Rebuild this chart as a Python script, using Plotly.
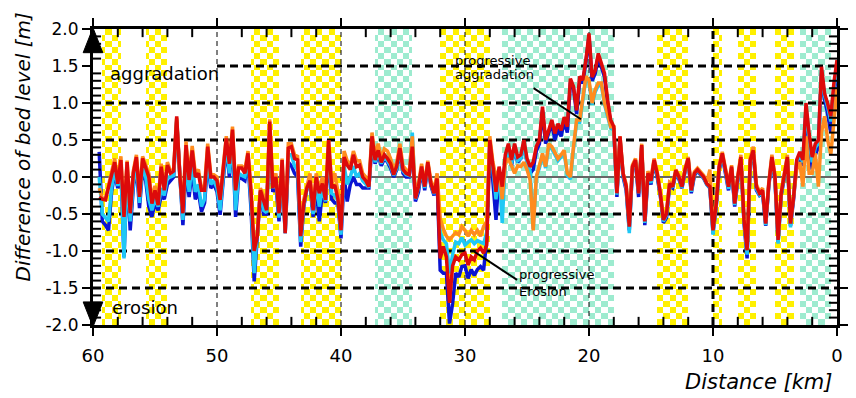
import numpy as np
import plotly.graph_objects as go

# ---------------- data ----------------
dist_km = np.round(np.arange(59.5, -0.01, -0.25), 2)  # survey stations (km)

red = [
    -0.27, -0.3, -0.31, -0.15, 0.05, 0.2, -0.09, 0.23, -0.54, 0.2,
    -0.49, 0.05, 0.27, -0.27, 0.25, 0.14, 0.0, -0.36, -0.18, -0.38,
    0.14, -0.18, 0.16, 0.05, 0.08, 0.82, 0.02, -0.49, 0.43, -0.04,
    0.36, 0.0, 0.05, -0.18, -0.18, 0.41, 0.0, 0.0, -0.05, -0.31,
    0.1, 0.52, 0.18, 0.64, -0.18, 0.12, 0.12, 0.05, 0.32, -0.22,
    -1.0, -0.8, -0.18, -0.31, -0.45, 0.75, -0.15, 0.0, -0.49, 0.23,
    -0.76, 0.39, 0.41, 0.25, 0.23, -0.8, -0.36, -0.15, -0.05, -0.45,
    0.0, -0.22, -0.09, -0.31, 0.5, -0.15, -0.11, -0.3, -0.72, 0.27,
    0.16, 0.1, 0.3, 0.14, 0.16, 0.0, -0.05, -0.13, 0.55, 0.23,
    0.36, 0.2, 0.3, 0.25, 0.18, 0.03, 0.15, 0.39, 0.1, 0.05,
    0.03, 0.41, -0.29, -0.13, 0.14, -0.13, 0.2, -0.09, -0.22, -0.02,
    -1.1, -0.94, -1.08, -1.7, -1.2, -1.08, -1.12, -1.05, -1.03, -1.19,
    -1.08, -1.12, -1.0, -0.96, -1.03, -0.92, 0.5, 0.15, -0.2, 0.14,
    -0.13, 0.3, 0.45, 0.23, 0.45, 0.27, 0.3, 0.5, 0.25, 0.14,
    0.2, 0.41, 0.5, 0.95, 0.5, 0.63, 0.77, 0.59, 0.72, 0.63,
    0.81, 0.68, 1.33, 1.22, 0.9, 1.36, 1.31, 1.58, 1.94, 1.35,
    1.44, 1.67, 1.55, 1.4, 1.04, 0.77, 0.68, -0.22, 0.55, 0.05,
    -0.13, -0.67, 0.14, 0.23, -0.22, 0.43, -0.6, 0.05, -0.05, 0.23,
    0.05, -0.22, -0.58, -0.5, -0.09, -0.13, 0.09, 0.0, -0.13, 0.1,
    0.25, -0.18, 0.05, 0.1, 0.05, 0.0, -0.09, -0.13, -0.72, -0.38,
    0.14, 0.32, 0.1, -0.13, 0.14, -0.36, 0.0, 0.27, -0.58, -0.99,
    0.23, 0.36, -0.13, -0.22, -0.18, -0.63, -0.09, 0.27, 0.0, -0.85,
    -0.22, 0.05, 0.27, -0.63, -0.27, 0.23, 0.34, 0.23, 1.0, 0.59,
    0.27, 0.45, 0.5, 1.49, 1.13, 0.99, 0.82, 1.27, 1.58,
]

blue = [
    0.34, -0.6, -0.65, -0.72, -0.2, 0.05, -0.15, 0.1, -1.08, 0.05,
    -0.72, -0.15, 0.15, -0.42, 0.1, -0.05, -0.4, -0.54, -0.35, -0.45,
    -0.25, -0.3, -0.1, -0.05, 0.0, 0.75, -0.05, -0.65, 0.1, -0.27,
    0.1, -0.3, -0.2, -0.47, -0.35, 0.2, -0.15, -0.1, -0.2, -0.51,
    -0.05, 0.4, 0.0, 0.5, -0.54, 0.0, -0.02, -0.05, 0.2, -0.45,
    -1.41, -0.8, -0.2, -0.5, -0.5, 0.6, -0.2, -0.1, -0.6, 0.1,
    -0.76, 0.2, 0.15, 0.05, 0.0, -0.94, -0.4, -0.15, -0.1, -0.54,
    -0.15, -0.6, -0.2, -0.35, 0.3, -0.3, -0.35, -0.35, -0.83, 0.0,
    -0.33, -0.1, 0.0, -0.1, -0.1, -0.15, -0.15, -0.15, 0.45, 0.18,
    0.3, 0.15, 0.25, 0.2, 0.12, 0.0, 0.1, 0.35, 0.05, 0.0,
    0.0, 0.38, -0.33, -0.2, 0.1, -0.18, 0.15, -0.12, -0.25, -0.05,
    -1.26, -1.3, -1.3, -1.98, -1.71, -1.3, -1.35, -1.21, -1.2, -1.37,
    -1.25, -1.33, -1.25, -1.21, -1.26, -0.85, 0.45, -0.1, -0.58, 0.05,
    -0.35, 0.25, 0.4, 0.15, 0.4, 0.2, 0.25, 0.45, 0.2, 0.05,
    0.1, 0.35, 0.45, 0.9, 0.45, 0.6, 0.72, 0.5, 0.65, 0.55,
    0.75, 0.6, 1.28, 1.2, 0.85, 1.3, 1.28, 1.55, 1.9, 1.3,
    1.4, 1.62, 1.5, 1.35, 1.0, 0.72, 0.65, -0.27, 0.5, 0.0,
    -0.18, -0.72, 0.1, 0.2, -0.27, 0.4, -0.65, 0.0, -0.1, 0.2,
    0.0, -0.25, -0.62, -0.55, -0.12, -0.15, 0.05, -0.03, -0.15, 0.08,
    0.22, -0.22, 0.02, 0.08, 0.03, -0.02, -0.1, -0.15, -0.75, -0.42,
    0.1, 0.28, 0.05, -0.18, 0.1, -0.4, -0.05, 0.22, -0.62, -1.1,
    0.18, 0.32, -0.18, -0.25, -0.22, -0.66, -0.12, 0.22, -0.05, -0.88,
    -0.25, 0.0, 0.22, -0.66, -0.3, 0.18, 0.25, 0.15, 0.9, 0.45,
    0.1, 0.3, 0.4, 1.4, 1.05, 0.85, 0.6, 1.1, 1.45,
]

cyan = [
    0.0, -0.5, -0.55, -0.6, -0.15, 0.1, -0.12, 0.15, -1.1, 0.1,
    -0.6, -0.1, 0.2, -0.35, 0.15, 0.0, -0.3, -0.45, -0.3, -0.4,
    -0.15, -0.25, 0.0, 0.0, 0.02, 0.78, 0.0, -0.58, 0.2, -0.2,
    0.2, -0.2, -0.1, -0.4, -0.3, 0.3, -0.1, -0.05, -0.15, -0.45,
    0.0, 0.45, 0.05, 0.55, -0.45, 0.05, 0.02, 0.0, 0.25, -0.35,
    -1.3, -0.8, -0.2, -0.45, -0.48, 0.65, -0.15, -0.05, -0.55, 0.15,
    -0.76, 0.3, 0.3, 0.15, 0.1, -0.88, -0.38, -0.15, -0.08, -0.5,
    -0.08, -0.4, -0.15, -0.33, 0.4, -0.22, -0.25, -0.32, -0.78, 0.15,
    -0.1, 0.0, 0.15, 0.0, 0.05, -0.05, -0.1, -0.14, 0.5, 0.2,
    0.33, 0.18, 0.28, 0.22, 0.15, 0.02, 0.12, 0.37, 0.08, 0.03,
    0.02, 0.6, -0.3, -0.15, 0.12, -0.15, 0.18, -0.1, -0.23, -0.03,
    -0.75, -0.85, -0.9, -1.3, -1.05, -0.88, -0.9, -0.82, -0.92, -0.88,
    -0.85, -0.9, -0.86, -0.88, -0.9, -0.75, 0.5, 0.1, -0.3, 0.1,
    -0.62, 0.2, 0.4, 0.18, 0.38, 0.22, 0.25, 0.45, 0.2, 0.08,
    -0.7, 0.0, 0.12, 0.3, 0.12, 0.42, 0.38, 0.3, 0.22, 0.27,
    0.33, 0.02, -0.03, 0.38, 0.74, 0.74, 1.0, 1.33, 1.28, 0.98,
    1.15, 1.24, 1.24, 0.98, 0.82, 0.66, 0.64, -0.24, 0.52, 0.02,
    -0.15, -0.76, 0.12, 0.22, -0.22, 0.42, -0.62, 0.03, -0.08, 0.21,
    0.03, -0.23, -0.6, -0.52, -0.1, -0.14, 0.07, -0.01, -0.14, 0.09,
    0.24, -0.2, 0.04, 0.09, 0.04, -0.01, -0.1, -0.14, -0.78, -0.4,
    0.12, 0.3, 0.08, -0.16, 0.12, -0.38, -0.02, 0.25, -0.6, -1.05,
    0.2, 0.34, -0.16, -0.24, -0.2, -0.65, -0.1, 0.25, -0.03, -0.9,
    -0.24, 0.03, 0.25, -0.68, -0.29, 0.2, 0.3, 0.2, 0.95, 0.5,
    0.2, 0.4, 0.45, 1.45, 1.1, 0.95, 0.75, 1.2, 1.5,
]

orange = [
    -0.15, -0.28, -0.3, -0.1, 0.1, 0.25, -0.05, 0.28, -0.5, 0.22,
    -0.45, 0.08, 0.3, -0.22, 0.28, 0.18, 0.05, -0.3, -0.12, -0.32,
    0.18, -0.12, 0.2, 0.08, 0.1, 0.8, 0.05, -0.45, 0.48, 0.0,
    0.42, 0.05, 0.1, -0.15, -0.12, 0.45, 0.03, 0.03, 0.0, -0.28,
    0.15, 0.55, 0.22, 0.68, -0.15, 0.15, 0.15, 0.1, 0.35, -0.18,
    -0.95, -0.75, -0.15, -0.25, -0.4, 0.78, -0.1, 0.05, -0.45, 0.25,
    -0.7, 0.45, 0.45, 0.3, 0.28, -0.75, -0.3, -0.1, 0.05, -0.42,
    0.05, -0.18, 0.0, -0.25, 0.5, -0.1, 0.05, -0.2, -0.68, 0.35,
    0.22, 0.15, 0.35, 0.22, 0.22, 0.05, 0.0, -0.1, 0.6, 0.28,
    0.45, 0.25, 0.38, 0.35, 0.25, 0.1, 0.2, 0.45, 0.15, 0.1,
    0.05, 0.55, -0.25, -0.08, 0.18, -0.1, 0.22, -0.05, -0.18, 0.05,
    -0.56, -0.7, -0.8, -0.85, -0.8, -0.75, -0.78, -0.67, -0.72, -0.8,
    -0.72, -0.78, -0.72, -0.8, -0.67, -0.6, 0.55, 0.2, 0.0, 0.1,
    -0.3, 0.18, 0.25, 0.15, 0.05, 0.15, 0.14, 0.2, 0.1, -0.04,
    -0.72, 0.0, 0.14, 0.32, 0.14, 0.45, 0.41, 0.32, 0.25, 0.3,
    0.36, 0.05, 0.0, 0.41, 0.77, 0.77, 1.04, 1.36, 1.31, 1.0,
    1.18, 1.27, 1.27, 1.0, 0.85, 0.68, 0.68, -0.2, 0.55, 0.05,
    -0.1, -0.62, 0.16, 0.25, -0.18, 0.45, -0.55, 0.08, -0.02, 0.25,
    0.07, -0.2, -0.55, -0.45, -0.07, -0.1, 0.1, 0.02, -0.1, 0.12,
    0.27, -0.15, 0.07, 0.12, 0.07, 0.02, -0.07, 0.1, -0.68, -0.35,
    0.16, 0.34, 0.12, -0.1, 0.16, -0.33, 0.02, 0.3, -0.55, -0.95,
    0.25, 0.41, -0.1, -0.2, -0.15, -0.6, -0.07, 0.3, 0.02, -0.8,
    -0.2, 0.08, 0.3, -0.6, -0.25, 0.1, 0.2, -0.13, 0.55, 0.05,
    0.05, 0.32, -0.13, 0.6, 0.82, 0.5, 0.3, 0.8, 1.2,
]

# shaded reaches (km from, km to)
yellow_reaches = [(59.3, 57.7), (55.7, 54.0), (47.3, 45.1), (43.2, 40.0),
                  (32.0, 27.9), (14.4, 12.0), (9.9, 9.2), (7.9, 6.4), (5.0, 3.6)]
green_reaches = [(37.35, 34.2), (27.0, 18.0), (3.0, 0.6)]

x_tick_vals = [60, 50, 40, 30, 20, 10, 0]
x_tick_text = ["60", "50", "40", "30", "20", "10", "0"]
y_tick_vals = [2.0, 1.5, 1.0, 0.5, 0.0, -0.5, -1.0, -1.5, -2.0]
y_tick_text = ["2.0", "1.5", "1.0", "0.5", "0.0", "-0.5", "-1.0", "-1.5", "-2.0"]

FONT = "DejaVu Sans, Verdana, sans-serif"

# ---------------- checker background ----------------
cell_x = np.arange(0.125, 60.0, 0.25)
cell_y = np.arange(-1.96, 2.0, 0.08)
z = np.full((len(cell_y), len(cell_x)), np.nan)
for i, xc in enumerate(cell_x):
    for j, yc in enumerate(cell_y):
        if (i // 2 + j) % 2:
            continue
        for a, b in yellow_reaches:
            if b <= xc <= a:
                z[j, i] = 1
        for a, b in green_reaches:
            if b <= xc <= a:
                z[j, i] = 2

fig = go.Figure()
fig.add_trace(go.Heatmap(
    x=cell_x, y=cell_y, z=z, zmin=1, zmax=2, showscale=False,
    colorscale=[[0, "#FFF000"], [0.5, "#FFF000"], [0.5, "#9DEBCF"], [1, "#9DEBCF"]],
    hoverinfo="skip", zsmooth=False,
))

# ---------------- grid lines ----------------
def hlines(levels, x0=60, x1=0):
    xs, ys = [], []
    for lv in levels:
        xs += [x0, x1, None]
        ys += [lv, lv, None]
    return xs, ys

gx, gy = hlines([1.0, 0.5, -0.5, -1.0, -1.5])
gx2, gy2 = hlines([1.5], 50, 0)
fig.add_trace(go.Scatter(x=gx + gx2, y=gy + gy2, mode="lines",
                         line=dict(color="black", width=3, dash="8px,5px"),
                         hoverinfo="skip", showlegend=False))
vx, vy = [], []
for xv in [50, 40, 30, 20]:
    vx += [xv, xv, None]
    vy += [-2, 2, None]
fig.add_trace(go.Scatter(x=vx, y=vy, mode="lines",
                         line=dict(color="black", width=1, dash="5px,4px"),
                         hoverinfo="skip", showlegend=False))
fig.add_trace(go.Scatter(x=[10, 10], y=[-2, 2], mode="lines",
                         line=dict(color="black", width=3, dash="8px,5px"),
                         hoverinfo="skip", showlegend=False))
fig.add_trace(go.Scatter(x=[60, 0], y=[0, 0], mode="lines",
                         line=dict(color="#666666", width=2),
                         hoverinfo="skip", showlegend=False))

# ---------------- series ----------------
for vals, col in [(blue, "#0A14D2"), (cyan, "#1EC8F5"), (orange, "#FF8C1E"), (red, "#DD0A0A")]:
    fig.add_trace(go.Scatter(x=dist_km, y=vals, mode="lines",
                             line=dict(color=col, width=3.5), showlegend=False,
                             hoverinfo="skip"))

# ---------------- minor (inside) ticks on all four sides ----------------
x_minor = [v for v in range(2, 60, 2) if v % 10]
y_minor = [round(v, 1) for v in np.arange(-1.9, 2.0, 0.1) if abs(round(v * 10)) % 5]
TICK_Y = 0.11   # ~8 px in y units
TICK_X = 0.65   # ~8 px in km
mx, my = [], []
for v in x_minor:
    mx += [v, v, None, v, v, None]
    my += [-2, -2 + TICK_Y, None, 2, 2 - TICK_Y, None]
for v in y_minor:
    mx += [60, 60 - TICK_X, None, 0, TICK_X, None]
    my += [v, v, None, v, v, None]
fig.add_trace(go.Scatter(x=mx, y=my, mode="lines", line=dict(color="black", width=2),
                         hoverinfo="skip", showlegend=False, cliponaxis=False))

# ---------------- annotations ----------------
ann = []
def txt(x, y, s, size, xref="x", yref="y", xanchor="left", yanchor="middle", angle=0):
    ann.append(dict(x=x, y=y, xref=xref, yref=yref, text=s, showarrow=False,
                    xanchor=xanchor, yanchor=yanchor, textangle=angle,
                    font=dict(family=FONT, size=size, color="black")))

txt(58.8, 1.40, "aggradation", 18)
txt(58.65, -1.76, "erosion", 18)
txt(30.98, 1.58, "progressive", 13)
txt(30.98, 1.38, "aggradation", 13)
txt(25.82, -1.32, "progressive", 13)
txt(25.82, -1.55, "Erosion", 13)
txt(-0.094, 0.60, "<i>Difference of bed level [m]</i>", 20, xref="paper", yref="paper",
    xanchor="center", angle=-90)
txt(0.997, -0.193, "<i>Distance [km]</i>", 21, xref="paper", yref="paper", xanchor="right")

shapes = [
    dict(type="line", xref="x", yref="y", x0=24.47, y0=1.2, x1=20.65, y1=0.78,
         line=dict(color="black", width=2)),
    dict(type="line", xref="x", yref="y", x0=29.24, y0=-1.01, x1=25.8, y1=-1.39,
         line=dict(color="black", width=2)),
    dict(type="path", xref="paper", yref="paper",
         path="M 0,1.004 L -0.0132,0.92 L 0.0132,0.92 Z",
         fillcolor="black", line=dict(color="black", width=1)),
    dict(type="path", xref="paper", yref="paper",
         path="M 0,-0.006 L -0.0132,0.078 L 0.0132,0.078 Z",
         fillcolor="black", line=dict(color="black", width=1)),
]

# page body has an 8px default margin, so the figure is sized to fit the window
fig.update_layout(
    width=848, height=390,
    margin=dict(l=85, r=8, t=21, b=73),
    paper_bgcolor="white", plot_bgcolor="white",
    showlegend=False,
    annotations=ann, shapes=shapes,
    font=dict(family=FONT, color="black"),
)
fig.update_xaxes(
    range=[60, 0], tickmode="array", tickvals=x_tick_vals, ticktext=x_tick_text,
    ticks="outside", ticklen=8, tickwidth=2, tickcolor="black",
    tickfont=dict(family=FONT, size=18, color="black"), ticklabelstandoff=4,
    showline=True, linecolor="black", linewidth=3, mirror="allticks",
    showgrid=False, zeroline=False,
)
fig.update_yaxes(
    range=[-2, 2], tickmode="array", tickvals=y_tick_vals, ticktext=y_tick_text,
    ticks="outside", ticklen=8, tickwidth=2, tickcolor="black",
    tickfont=dict(family=FONT, size=17, color="black"),
    showline=True, linecolor="black", linewidth=3, mirror="allticks",
    showgrid=False, zeroline=False,
)

fig.write_html("out.html")
